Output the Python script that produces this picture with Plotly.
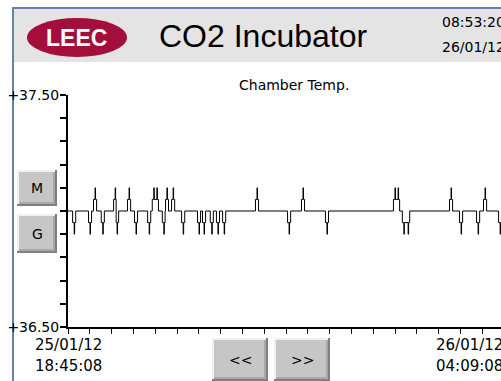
import plotly.graph_objects as go

# Chamber temperature log: minutes after 25/01/12 18:45:08 and reading in degC
minutes = [0,
           6, 8, 8.6, 10,
           26.5, 28.5, 29.1, 30.5,
           33, 35, 35.6, 37,
           43, 45, 45.6, 47,
           59, 61, 61.6, 62.3, 63.5, 64.1, 65.5,
           77, 79, 79.6, 81,
           86, 88, 88.6, 90,
           103, 105, 105.6, 107,
           109, 111, 111.6, 115, 115.6, 117,
           122, 124, 124.6, 125.6,
           126.2, 128, 128.6, 130,
           134, 136, 136.6, 138,
           147, 149, 149.6, 151,
           167.5, 169.5, 170.1, 171.5,
           174, 176, 176.6, 178,
           184, 186, 186.6, 188,
           192, 194, 194.6, 196,
           200, 202, 202.6, 204,
           242.5, 244.5, 245.1, 246.5,
           284, 286, 286.6, 288,
           302, 304, 304.6, 306,
           333, 335, 335.6, 337,
           421, 423, 423.6, 427, 427.6, 429,
           432.5, 434.5, 435.1, 440, 440.6, 442,
           493.5, 495.5, 496.1, 497.5,
           506.5, 508.5, 509.1, 510.5,
           528.5, 530.5, 531.1, 532.5,
           537.5, 539.5, 540.1, 541.5,
           557, 559, 559.6, 561,
           564]
temps = [37.0,
         36.95, 36.9, 36.95, 37.0,
         36.95, 36.9, 36.95, 37.0,
         37.05, 37.1, 37.05, 37.0,
         36.95, 36.9, 36.95, 37.0,
         37.05, 37.1, 37.05, 36.95, 36.9, 36.95, 37.0,
         37.05, 37.1, 37.05, 37.0,
         36.95, 36.9, 36.95, 37.0,
         36.95, 36.9, 36.95, 37.0,
         37.05, 37.1, 37.05, 37.1, 37.05, 37.0,
         36.95, 36.9, 36.95, 37.0,
         37.05, 37.1, 37.05, 37.0,
         37.05, 37.1, 37.05, 37.0,
         36.95, 36.9, 36.95, 37.0,
         36.95, 36.9, 36.95, 37.0,
         36.95, 36.9, 36.95, 37.0,
         36.95, 36.9, 36.95, 37.0,
         36.95, 36.9, 36.95, 37.0,
         36.95, 36.9, 36.95, 37.0,
         37.05, 37.1, 37.05, 37.0,
         36.95, 36.9, 36.95, 37.0,
         37.05, 37.1, 37.05, 37.0,
         36.95, 36.9, 36.95, 37.0,
         37.05, 37.1, 37.05, 37.1, 37.05, 37.0,
         36.95, 36.9, 36.95, 36.9, 36.95, 37.0,
         37.05, 37.1, 37.05, 37.0,
         36.95, 36.9, 36.95, 37.0,
         36.95, 36.9, 36.95, 37.0,
         37.05, 37.1, 37.05, 37.0,
         36.95, 36.9, 36.95, 37.0,
         37.0]

y_tick_vals = [36.5, 36.6, 36.7, 36.8, 36.9, 37.0, 37.1, 37.2, 37.3, 37.4, 37.5]
y_tick_text = ["+36.50", "", "", "", "", "", "", "", "", "", "+37.50"]

span_minutes = 564          # 18:45:08 -> 04:09:08
x_divisions = 20
start_stamp = ["25/01/12", "18:45:08"]
end_stamp = ["26/01/12", "04:09:08"]
clock_stamp = ["08:53:20", "26/01/12"]

title_text = "CO2 Incubator"
chart_title = "Chamber Temp."
logo_text = "LEEC"

W, H = 501, 381
ML, MR, MT, MB = 68, 0, 95, 54
PW, PH = W - ML - MR, H - MT - MB
AXIS_PX = 436               # full time axis length in pixels


def fx(px):
    return (px - ML) / PW


def fy(py):
    return (H - MB - py) / PH


def rect(x0, y0, x1, y1, color, layer="above"):
    return dict(type="rect", xref="paper", yref="paper",
                x0=fx(x0), x1=fx(x1), y0=fy(y1), y1=fy(y0),
                fillcolor=color, line=dict(width=0), layer=layer)


def label(x, y, text, size, color="black", family="DejaVu Sans",
          xanchor="center", bold=False):
    if bold:
        text = "<b>" + text + "</b>"
    return dict(xref="paper", yref="paper", x=fx(x), y=fy(y), text=text,
                showarrow=False, xanchor=xanchor, yanchor="middle",
                font=dict(size=size, color=color, family=family))


shapes = []
annotations = []

# header band and window frame (kept under the axis labels)
shapes.append(rect(14, 9, W, 62, "#E4E4E4", "below"))
shapes.append(rect(12, 7, W, 9, "#6483A8", "below"))
shapes.append(rect(12, 7, 14, H, "#6483A8", "below"))

# logo
shapes.append(dict(type="circle", xref="paper", yref="paper",
                   x0=fx(27), x1=fx(127), y0=fy(57), y1=fy(18),
                   fillcolor="#A30E3C", line=dict(width=0), layer="above"))
annotations.append(label(76, 38, logo_text, 23, "white", "Liberation Sans", bold=True))

annotations.append(label(157, 36, title_text, 32, "black", "Liberation Sans", xanchor="left"))
annotations.append(label(440, 22, clock_stamp[0], 14, xanchor="left"))
annotations.append(label(440, 47, clock_stamp[1], 14, xanchor="left"))

annotations.append(label(294, 85, chart_title, 14))


def button(x0, y0, x1, y1, text):
    shapes.append(rect(x0, y0, x1, y1, "#808080"))
    shapes.append(rect(x0, y0, x1 - 2, y1 - 2, "#F0F0F0"))
    shapes.append(rect(x0 + 2, y0 + 2, x1 - 2, y1 - 2, "#A8A8A8"))
    shapes.append(rect(x0 + 2, y0 + 2, x1 - 4, y1 - 4, "#C6C6C6"))
    annotations.append(label((x0 + x1) / 2, (y0 + y1) / 2, text, 14))


button(17, 170, 57, 206, "M")
button(17, 214, 57, 253, "G")
button(212, 338, 268, 381, "<<")
button(274, 338, 330, 381, ">>")

# time stamps under the x axis
stamp_font = dict(size=15, color="black", family="DejaVu Sans")
for text, ypx in zip(start_stamp, [345, 366]):
    annotations.append(dict(xref="x", yref="paper", x=0, y=fy(ypx), text=text,
                            showarrow=False, xanchor="center", yanchor="middle",
                            font=stamp_font))
end_x = AXIS_PX / PW + 0.002
for text, ypx in zip(end_stamp, [345, 366]):
    annotations.append(dict(xref="paper", yref="paper", x=end_x, y=fy(ypx), text=text,
                            showarrow=False, xanchor="right", yanchor="middle",
                            font=stamp_font))

x_tick_vals = [span_minutes * i / x_divisions for i in range(x_divisions + 1)]
x_end = span_minutes * PW / AXIS_PX

fig = go.Figure(go.Scatter(x=minutes, y=temps, mode="lines", line_shape="hv",
                           line=dict(color="black", width=1), hoverinfo="skip"))

fig.update_layout(
    width=W, height=H,
    margin=dict(l=ML, r=MR, t=MT, b=MB, pad=0),
    paper_bgcolor="white", plot_bgcolor="white",
    showlegend=False,
    shapes=shapes, annotations=annotations,
    xaxis=dict(range=[0, x_end], showgrid=False, zeroline=False,
               showline=True, linecolor="black", linewidth=2,
               ticks="outside", ticklen=5, tickwidth=1, tickcolor="black",
               tickvals=x_tick_vals, showticklabels=False, fixedrange=True),
    yaxis=dict(range=[36.5, 37.5], showgrid=False, zeroline=False,
               showline=True, linecolor="black", linewidth=2,
               ticks="outside", ticklen=6, tickwidth=2, tickcolor="black",
               tickvals=y_tick_vals, ticktext=y_tick_text,
               ticklabelstandoff=-2,
               tickfont=dict(size=14, color="black", family="DejaVu Sans"),
               fixedrange=True),
)

fig.write_html("out.html", config={"displayModeBar": False})
